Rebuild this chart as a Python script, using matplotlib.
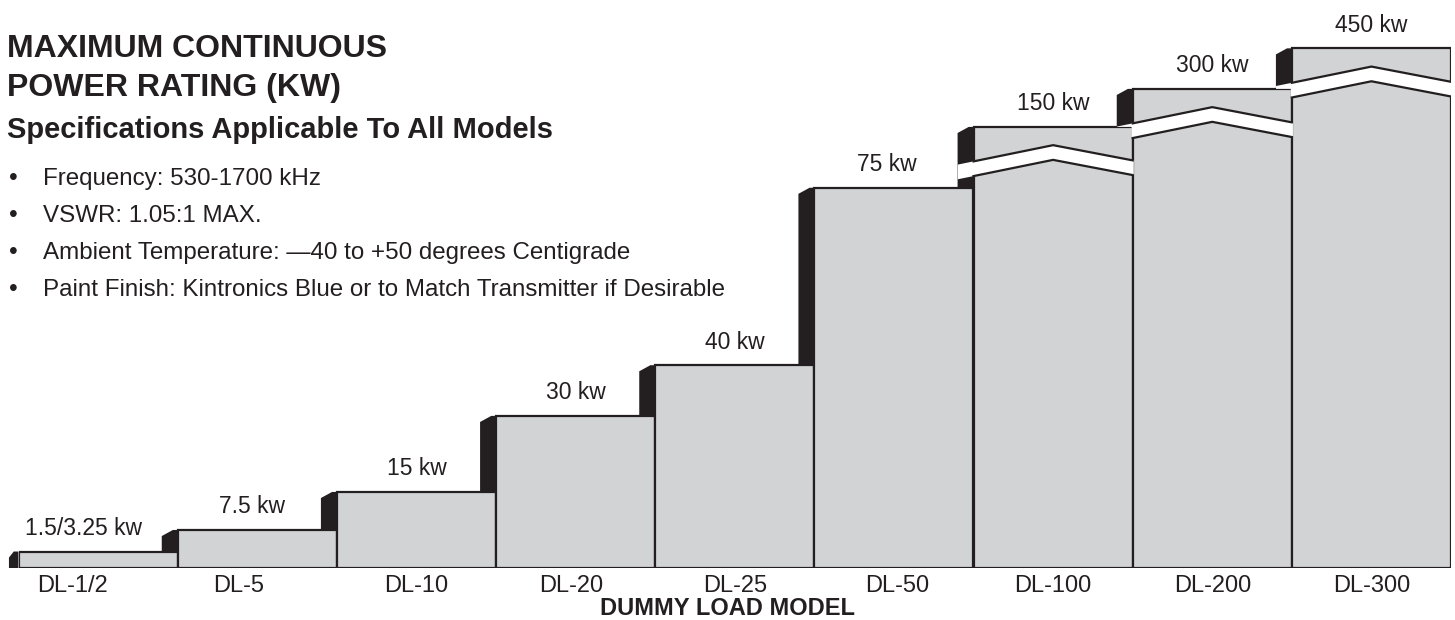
import matplotlib
matplotlib.use("Agg")
import matplotlib.pyplot as plt
from matplotlib.patches import Polygon

plt.rcParams['font.family'] = ['Liberation Sans', 'DejaVu Sans']

# data
models = ["DL-1/2", "DL-5", "DL-10", "DL-20", "DL-25", "DL-50", "DL-100", "DL-200", "DL-300"]
power_kw = [3.25, 7.5, 15, 30, 40, 75, 150, 300, 450]
power_labels = ["1.5/3.25 kw", "7.5 kw", "15 kw", "30 kw", "40 kw", "75 kw",
                "150 kw", "300 kw", "450 kw"]
# above 75 kw the scale is broken, these bars are drawn at these heights
broken_above = 75
broken_heights = [87, 94.5, 102.5]

title_lines = ["MAXIMUM CONTINUOUS", "POWER RATING (KW)"]
subtitle = "Specifications Applicable To All Models"
specs = ["Frequency: 530-1700 kHz",
         "VSWR: 1.05:1 MAX.",
         "Ambient Temperature: \u201440 to +50 degrees Centigrade",
         "Paint Finish: Kintronics Blue or to Match Transmitter if Desirable"]

GRAY = "#d1d3d4"
INK = "#231f20"
W, H = 1455, 620

heights = []
k = 0
for v in power_kw:
    if v > broken_above:
        heights.append(broken_heights[k])
        k += 1
    else:
        heights.append(v)

fig = plt.figure(figsize=(W / 100, H / 100), dpi=100)
ax = fig.add_axes([18.5 / W, 52 / H, 1432.5 / W, 557.7 / H])
ax.set_xlim(0, len(models))
ax.set_ylim(0, 110)
for s in ax.spines.values():
    s.set_visible(False)

lw = 1.6
sw = 0.1  # width of the dark side face, in bar units
prev = 0
for i, h in enumerate(heights):
    w_side = sw if i > 0 else 0.06
    side = Polygon([(i, prev), (i - w_side, prev), (i - w_side, h - 1.2), (i - 0.03, h), (i, h)],
                   closed=True, fc=INK, ec="none", zorder=2, clip_on=False)
    ax.add_patch(side)
    ax.bar(i, h, width=1, align="edge", color=GRAY, edgecolor=INK, linewidth=lw, zorder=3)

    if power_kw[i] > broken_above:
        # zig-zag break near the top of the bar
        def line(off):
            return ([i, i + 0.5, i + 1], [h - 6.8 - off, h - 3.6 - off, h - 6.6 - off])
        ux, uy = line(0)
        lx, ly = line(2.9)
        e = 0.007
        band = Polygon([(i - e, uy[0]), (ux[1], uy[1]), (i + 1 + e, uy[2]),
                        (i + 1 + e, ly[2]), (lx[1], ly[1]), (i - e, ly[0])],
                       closed=True, fc="white", ec="none", zorder=4)
        ax.add_patch(band)
        slope = (uy[1] - uy[0]) / 0.5
        band_side = Polygon([(i - sw, uy[0] - slope * sw), (i, uy[0]),
                             (i, ly[0]), (i - sw, ly[0] - slope * sw)],
                            closed=True, fc="white", ec="none", zorder=4)
        ax.add_patch(band_side)
        band_side.set_clip_path(side)
        ax.plot(ux, uy, color=INK, lw=lw, zorder=5, solid_joinstyle="miter")
        ax.plot(lx, ly, color=INK, lw=lw, zorder=5, solid_joinstyle="miter")
    prev = h

label_dx = [-0.09, -0.03, 0, 0, 0, -0.045, 0, 0, 0]
for i, (h, lab) in enumerate(zip(heights, power_labels)):
    ax.annotate(lab, (i + 0.5 + label_dx[i], h), xytext=(0, 12), textcoords="offset points",
                ha="center", va="baseline", fontsize=16.5, color=INK, zorder=6)

tick_dx = [-0.16, -0.12, 0, -0.03, 0, 0.02, 0, 0, 0]
ax.set_xticks([i + 0.5 + d for i, d in enumerate(tick_dx)], models)
ax.set_yticks([])
ax.tick_params(axis="x", length=0, pad=5, labelsize=17, labelcolor=INK)
ax.set_xlabel("DUMMY LOAD MODEL", fontsize=17, fontweight="bold", color=INK, labelpad=0)
ax.xaxis.set_label_coords(0.495, -0.052)
ax.xaxis.label.set_va("top")

fig.text(7 / W, 1 - 57 / H, title_lines[0], fontsize=23, fontweight="bold", color=INK, va="baseline")
fig.text(7 / W, 1 - 96 / H, title_lines[1], fontsize=23, fontweight="bold", color=INK, va="baseline")
fig.text(7 / W, 1 - 138 / H, subtitle, fontsize=21, fontweight="bold", color=INK, va="baseline")
for j, t in enumerate(specs):
    y = 1 - (185 + 37 * j) / H
    fig.text(13 / W, y, "\u2022", fontsize=18, color=INK, va="baseline", ha="center")
    fig.text(43 / W, y, t, fontsize=17.4, color=INK, va="baseline")

fig.savefig("out.png", dpi=100)
